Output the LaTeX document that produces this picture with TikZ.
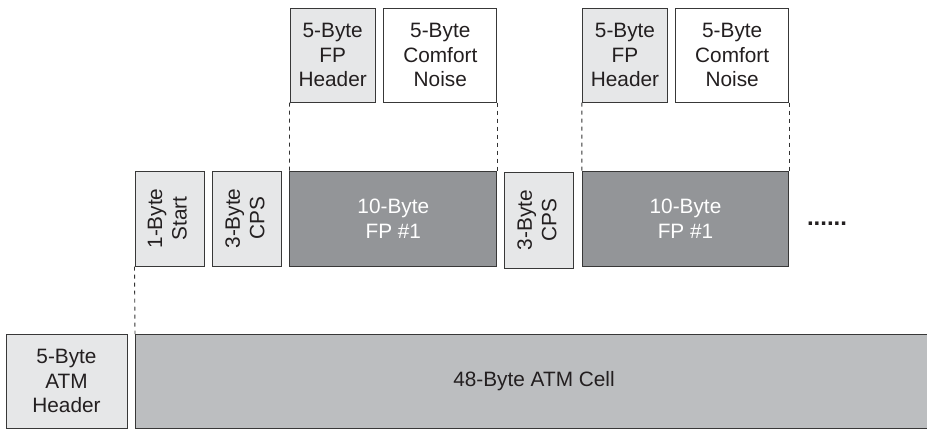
\documentclass[tikz,border=0pt]{standalone}
\usepackage{fontspec}
\setmainfont{Liberation Sans}
\definecolor{lightg}{HTML}{E6E7E8}
\definecolor{darkg}{HTML}{939598}
\definecolor{cellg}{HTML}{BCBEC0}
\definecolor{txt}{HTML}{231F20}
\newcommand{\vtext}[2]{\rotatebox{90}{\begin{tabular}{@{}c@{}}#1\\#2\end{tabular}}}
\begin{document}
\begin{tikzpicture}[x=1pt,y=-1pt,
  box/.style={draw=black!78, line width=1pt, inner sep=0pt, text=txt, align=center,
    font=\fontsize{20.8}{24.5}\selectfont},
  light/.style={box, fill=lightg},
  fpbox/.style={box, fill=darkg, text=white},
  dashline/.style={draw=black!80, line width=0.9pt, dash pattern=on 4pt off 4pt}]
\useasboundingbox (0,0) rectangle (927,429);
\clip (0,0) rectangle (927,429);
% top row
\node[light, minimum width=85.3, minimum height=94] (hdr1) at (332.7,55) {5-Byte\\FP\\Header};
\node[box, fill=white, minimum width=112.7, minimum height=94] (cn1) at (440.3,55) {5-Byte\\Comfort\\Noise};
\node[light, minimum width=85.3, minimum height=94] (hdr2) at (625,55) {5-Byte\\FP\\Header};
\node[box, fill=white, minimum width=113, minimum height=94] (cn2) at (732.2,55) {5-Byte\\Comfort\\Noise};
% middle row
\node[light, minimum width=69, minimum height=95] (start) at (169.5,218.5) {\vtext{1-Byte}{Start}};
\node[light, minimum width=69, minimum height=95] (cps1) at (247.2,218.5) {\vtext{3-Byte}{CPS}};
\node[fpbox, minimum width=206.7, minimum height=95] (fp1) at (393.3,218.5) {10-Byte\\FP \#1};
\node[light, minimum width=68.7, minimum height=96] (cps2) at (539.3,220) {\vtext{3-Byte}{CPS}};
\node[fpbox, minimum width=206.4, minimum height=95] (fp2) at (685.5,218.5) {10-Byte\\FP \#1};
\node[font=\fontsize{24}{24}\selectfont\bfseries, text=txt, anchor=base, inner sep=0pt] (dots) at (827,225) {......};
% bottom row
\node[light, minimum width=121, minimum height=93.5] (atmh) at (66.5,381.25) {5-Byte\\ATM\\Header};
\node[box, fill=cellg, minimum width=800, minimum height=93.5, anchor=west] (cell) at (135,381.25) {};
\node[text=txt, font=\fontsize{20.8}{24.5}\selectfont, inner sep=0pt] (celltxt) at (534,381.25) {48-Byte ATM Cell};
% dashed connectors
\draw[dashline] (hdr1.south west) -- (fp1.north west);
\draw[dashline] (cn1.south east) -- (fp1.north east);
\draw[dashline] (hdr2.south west) -- (fp2.north west);
\draw[dashline] (cn2.south east) -- (fp2.north east);
\draw[dashline] (start.south west) -- (cell.north west);
\end{tikzpicture}
\end{document}
